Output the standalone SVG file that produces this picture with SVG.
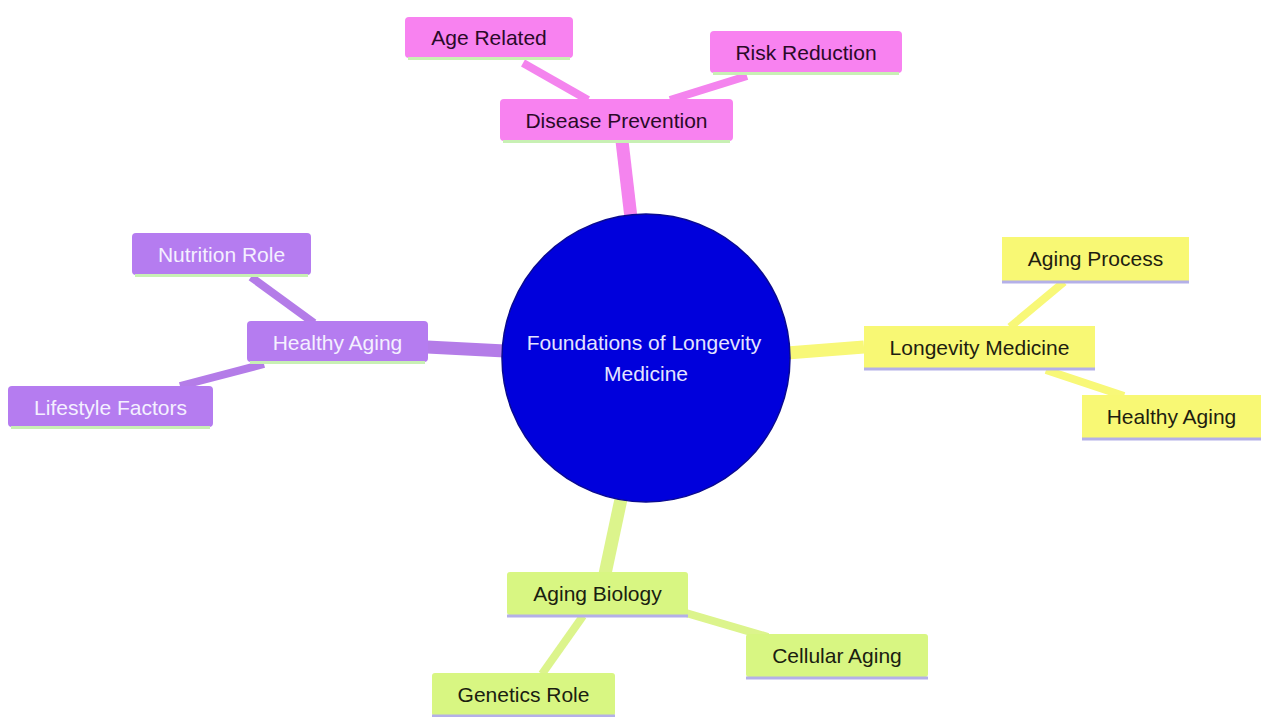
<svg xmlns="http://www.w3.org/2000/svg" width="1261" height="717" viewBox="0 0 1261 717">
<style>
text{font-family:"Liberation Sans",Arial,sans-serif;font-size:21px;text-anchor:middle;dominant-baseline:central}
.pk rect.b{fill:#f882f0}.pk .u{stroke:#c8f0b4}.pk text{fill:#2a0a28}
.pu rect.b{fill:#b57cf0}.pu .u{stroke:#c8f0b4}.pu text{fill:#f4f0ff}
.ye rect.b{fill:#f8f874}.ye .u{stroke:#b4b0e8}.ye text{fill:#1e1e10}
.gr rect.b{fill:#d8f682}.gr .u{stroke:#b4b0e8}.gr text{fill:#1a2010}
.u{stroke-width:3}
.e{fill:none;stroke-linecap:butt}
.e1{stroke-width:13}.e2{stroke-width:8}
</style>
<rect width="1261" height="717" fill="#ffffff"/>
<g id="connectors">
<line class="e e1" x1="622" y1="141" x2="631" y2="218" stroke="#f484ee"/>
<line class="e e2" x1="523" y1="63" x2="588" y2="100" stroke="#f484ee"/>
<line class="e e2" x1="747" y1="76" x2="670" y2="100" stroke="#f484ee"/>
<line class="e e1" x1="427" y1="347" x2="505" y2="351" stroke="#b47ce8"/>
<line class="e e2" x1="251" y1="277" x2="314" y2="323" stroke="#b47ce8"/>
<line class="e e2" x1="180" y1="386" x2="264" y2="364" stroke="#b47ce8"/>
<line class="e e1" x1="787" y1="353" x2="864" y2="347" stroke="#f8f878"/>
<line class="e e2" x1="1064" y1="282" x2="1010" y2="327" stroke="#f8f878"/>
<line class="e e2" x1="1046" y1="370" x2="1124" y2="396" stroke="#f8f878"/>
<line class="e e1" x1="621" y1="499" x2="605" y2="574" stroke="#dcf48c"/>
<line class="e e2" x1="686" y1="613" x2="768" y2="637" stroke="#dcf48c"/>
<line class="e e2" x1="583" y1="616" x2="542" y2="674" stroke="#dcf48c"/>
</g>
<g id="root">
<circle cx="646" cy="358" r="144" fill="#0000dc" stroke="#0a0a90" stroke-width="1.5"/>
<text x="644" y="342" fill="#e4e4ff">Foundations of Longevity</text>
<text x="646" y="373" fill="#e4e4ff">Medicine</text>
</g>
<g id="disease-prevention" class="pk">
<rect class="b" x="500" y="99" width="233" height="42" rx="4"/>
<line class="u" x1="503" y1="141.5" x2="730" y2="141.5"/>
<text x="616.5" y="120">Disease Prevention</text>
</g>
<g id="age-related" class="pk">
<rect class="b" x="405" y="17" width="168" height="41" rx="4"/>
<line class="u" x1="408" y1="58.5" x2="570" y2="58.5"/>
<text x="489" y="37.5">Age Related</text>
</g>
<g id="risk-reduction" class="pk">
<rect class="b" x="710" y="31" width="192" height="42" rx="4"/>
<line class="u" x1="713" y1="73.5" x2="899" y2="73.5"/>
<text x="806" y="52">Risk Reduction</text>
</g>
<g id="healthy-aging-left" class="pu">
<rect class="b" x="247" y="321" width="181" height="41" rx="4"/>
<line class="u" x1="250" y1="362.5" x2="425" y2="362.5"/>
<text x="337.5" y="342">Healthy Aging</text>
</g>
<g id="nutrition-role" class="pu">
<rect class="b" x="132" y="233" width="179" height="42" rx="4"/>
<line class="u" x1="135" y1="275.5" x2="308" y2="275.5"/>
<text x="221.5" y="254">Nutrition Role</text>
</g>
<g id="lifestyle-factors" class="pu">
<rect class="b" x="8" y="386" width="205" height="41" rx="4"/>
<line class="u" x1="11" y1="427.5" x2="210" y2="427.5"/>
<text x="110.5" y="407">Lifestyle Factors</text>
</g>
<g id="longevity-medicine" class="ye">
<rect class="b" x="864" y="326" width="231" height="42" rx="0"/>
<line class="u" x1="864" y1="369" x2="1095" y2="369"/>
<text x="979.5" y="347">Longevity Medicine</text>
</g>
<g id="aging-process" class="ye">
<rect class="b" x="1002" y="237" width="187" height="44" rx="0"/>
<line class="u" x1="1002" y1="282" x2="1189" y2="282"/>
<text x="1095.5" y="258">Aging Process</text>
</g>
<g id="healthy-aging-right" class="ye">
<rect class="b" x="1082" y="395" width="179" height="43" rx="0"/>
<line class="u" x1="1082" y1="439" x2="1261" y2="439"/>
<text x="1171.5" y="416">Healthy Aging</text>
</g>
<g id="aging-biology" class="gr">
<rect class="b" x="507" y="572" width="181" height="43" rx="3"/>
<line class="u" x1="507" y1="616" x2="688" y2="616"/>
<text x="597.5" y="593">Aging Biology</text>
</g>
<g id="cellular-aging" class="gr">
<rect class="b" x="746" y="634" width="182" height="43" rx="3"/>
<line class="u" x1="746" y1="678" x2="928" y2="678"/>
<text x="837" y="655">Cellular Aging</text>
</g>
<g id="genetics-role" class="gr">
<rect class="b" x="432" y="673" width="183" height="43" rx="3"/>
<line class="u" x1="432" y1="716" x2="615" y2="716"/>
<text x="523.5" y="694">Genetics Role</text>
</g>
</svg>
